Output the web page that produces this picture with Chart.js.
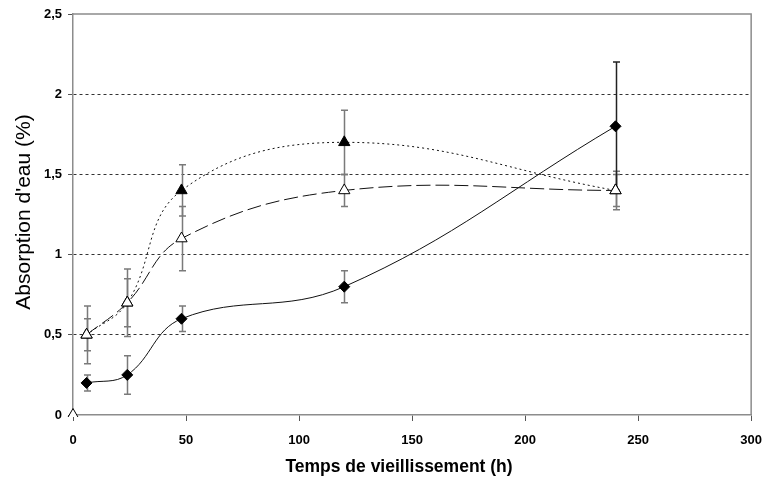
<!DOCTYPE html>
<html>
<head>
<meta charset="utf-8">
<script src="https://cdn.jsdelivr.net/npm/chart.js@4"></script>
<style>
  body { margin: 0; background: #fff; }
  #wrap { width: 774px; height: 482px; }
</style>
</head>
<body>
<div id="wrap"><canvas id="chart" width="774" height="482"></canvas></div>
<script>
// ageing times (h)
const times = [6, 24, 48, 120, 240];
// water absorption (%) for the three materials
const diamondVals = [0.2, 0.25, 0.6, 0.8, 1.8];
const diamondErr = [0.05, 0.12, 0.08, 0.1, 0.4];
const filledTriVals = [0.5, 0.7, 1.4, 1.7, 1.4];
const filledTriErr = [0.1, 0.15, 0.16, 0.2, 0.1];
const openTriVals = [0.5, 0.7, 1.1, 1.4, 1.4];
const openTriErr = [0.18, 0.21, 0.2, 0.1, 0.12];
const originX = [0];
const originY = [0];

const xTicks = [0, 50, 100, 150, 200, 250, 300];
const yTicks = [0, 0.5, 1, 1.5, 2, 2.5];
const xTitle = 'Temps de vieillissement (h)';
const yTitle = "Absorption d'eau (%)";

function toPoints(xs, ys) {
    return xs.map((x, i) => ({ x: x, y: ys[i] }));
}

// error bars, frame and axis titles
const extras = {
    id: 'extras',
    beforeDatasetsDraw(chart) {
        const ctx = chart.ctx;
        const xs = chart.scales.x, ys = chart.scales.y;
        const sets = [
            [openTriVals, openTriErr],
            [filledTriVals, filledTriErr],
            [diamondVals, diamondErr]
        ];
        ctx.save();
        ctx.lineWidth = 1.5;
        sets.forEach(([vals, errs], si) => {
            vals.forEach((v, i) => {
                // the long bar on the last diamond is drawn darker
                ctx.strokeStyle = (si === 2 && i === vals.length - 1) ? '#222' : '#7a7a7a';
                const px = Math.round(xs.getPixelForValue(times[i])) + 0.5;
                const top = ys.getPixelForValue(v + errs[i]);
                const bot = ys.getPixelForValue(v - errs[i]);
                ctx.beginPath();
                ctx.moveTo(px, top); ctx.lineTo(px, bot);
                ctx.moveTo(px - 3.5, top); ctx.lineTo(px + 3.5, top);
                ctx.moveTo(px - 3.5, bot); ctx.lineTo(px + 3.5, bot);
                ctx.stroke();
            });
        });
        ctx.restore();
    },
    afterDraw(chart) {
        const a = chart.chartArea;
        const ctx = chart.ctx;
        ctx.save();
        ctx.strokeStyle = '#8c8c8c';
        ctx.lineWidth = 1.5;
        ctx.beginPath();
        ctx.moveTo(a.left, a.top); ctx.lineTo(a.right, a.top); ctx.lineTo(a.right, a.bottom);
        ctx.stroke();

        ctx.fillStyle = '#000';
        ctx.textAlign = 'center';
        ctx.textBaseline = 'middle';
        ctx.font = 'bold 17.5px "Liberation Sans"';
        ctx.fillText(xTitle, 399, 467);

        ctx.translate(24, 212);
        ctx.rotate(-Math.PI / 2);
        ctx.font = '21px "Liberation Sans"';
        ctx.fillText(yTitle, 0, 0);
        ctx.restore();
    }
};

const tickFont = { family: 'Liberation Sans', size: 13, weight: 'bold' };

new Chart(document.getElementById('chart'), {
    type: 'scatter',
    data: {
        datasets: [
            {
                data: toPoints(times, diamondVals),
                order: 2,
                showLine: true,
                borderColor: '#111',
                borderWidth: 1,
                tension: 0.4,
                pointStyle: 'rectRot',
                pointRadius: 5.5,
                pointBackgroundColor: '#000',
                pointBorderColor: '#000'
            },
            {
                data: toPoints(times, filledTriVals),
                order: 1,
                showLine: true,
                borderColor: '#111',
                borderWidth: 1,
                borderDash: [2, 3],
                tension: 0.4,
                pointStyle: 'triangle',
                pointRadius: 6.5,
                pointBackgroundColor: '#000',
                pointBorderColor: '#000'
            },
            {
                data: toPoints(times, openTriVals),
                order: 0,
                showLine: true,
                borderColor: '#111',
                borderWidth: 1,
                borderDash: [14, 5],
                tension: 0.4,
                pointStyle: 'triangle',
                pointRadius: 6.5,
                pointBackgroundColor: '#fff',
                pointBorderColor: '#000',
                pointBorderWidth: 1
            },
            {
                data: toPoints(originX, originY),
                order: 0,
                showLine: false,
                clip: { left: 8, right: 0, top: 0, bottom: 2 },
                pointStyle: 'triangle',
                pointRadius: 6.5,
                pointBackgroundColor: '#fff',
                pointBorderColor: '#000',
                pointBorderWidth: 1
            }
        ]
    },
    options: {
        responsive: false,
        animation: false,
        layout: { padding: { top: 14, right: 12, left: 0, bottom: 0 } },
        plugins: { legend: { display: false }, tooltip: { enabled: false } },
        scales: {
            x: {
                type: 'linear',
                min: 0, max: 300,
                afterBuildTicks: s => { s.ticks = xTicks.map(v => ({ value: v })); },
                afterFit: s => { s.height = 67; },
                border: { color: '#8c8c8c', width: 1.5 },
                grid: { drawOnChartArea: false, tickLength: 6, color: '#555', tickColor: '#555' },
                ticks: { color: '#000', font: tickFont, padding: 12 }
            },
            y: {
                min: 0, max: 2.5,
                afterBuildTicks: s => { s.ticks = yTicks.map(v => ({ value: v })); },
                afterFit: s => { s.width = 73; },
                border: { color: '#8c8c8c', width: 1.5, dash: [3, 3] },
                grid: {
                    color: c => (c.tick && (c.tick.value === 0 || c.tick.value === 2.5)) ? 'rgba(0,0,0,0)' : '#333',
                    tickColor: '#555',
                    tickLength: 5,
                    tickBorderDash: []
                },
                ticks: {
                    color: '#000', font: tickFont, padding: 6,
                    callback: v => String(v).replace('.', ',')
                }
            }
        }
    },
    plugins: [extras]
});
</script>
</body>
</html>
